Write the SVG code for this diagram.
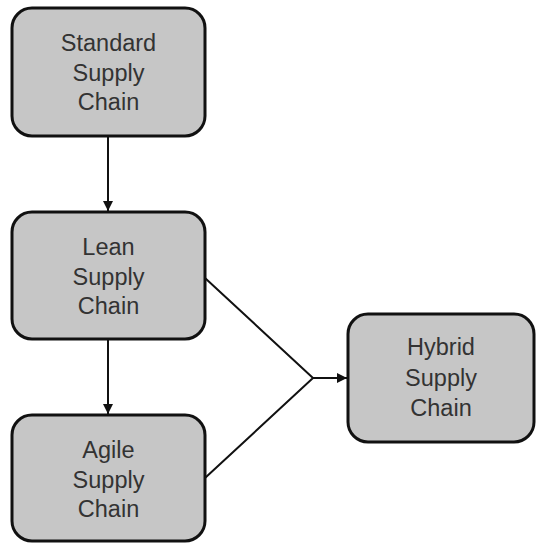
<svg xmlns="http://www.w3.org/2000/svg" width="536" height="544" viewBox="0 0 536 544">
<style>
.box{fill:#c6c6c6;stroke:#111;stroke-width:3}
.t{font-family:"Liberation Sans",Arial,sans-serif;font-size:23.5px;fill:#333;text-anchor:middle}
.c{fill:none;stroke:#111;stroke-width:2}
</style>
<defs>
<marker id="ah" viewBox="0 0 10 10" refX="10" refY="5" markerWidth="10" markerHeight="10" markerUnits="userSpaceOnUse" orient="auto">
<path d="M0,0 L10,5 L0,10 Z" fill="#111"/>
</marker>
</defs>
<rect width="536" height="544" fill="#fff"/>
<g id="connectors">
<line class="c" x1="108" y1="137" x2="108" y2="211" marker-end="url(#ah)"/>
<line class="c" x1="108" y1="340" x2="108" y2="414" marker-end="url(#ah)"/>
<polyline class="c" points="205,278 313,378 205,478"/>
<line class="c" x1="313" y1="378" x2="347" y2="378" marker-end="url(#ah)"/>
</g>
<g id="standard">
<rect class="box" x="12" y="8" width="193" height="128" rx="20"/>
<text class="t" x="108.5" y="51">Standard</text>
<text class="t" x="108.5" y="81">Supply</text>
<text class="t" x="108.5" y="110">Chain</text>
</g>
<g id="lean">
<rect class="box" x="12" y="212" width="193" height="127" rx="20"/>
<text class="t" x="108.5" y="255">Lean</text>
<text class="t" x="108.5" y="285">Supply</text>
<text class="t" x="108.5" y="314">Chain</text>
</g>
<g id="agile">
<rect class="box" x="12" y="415" width="193" height="126" rx="20"/>
<text class="t" x="108.5" y="458">Agile</text>
<text class="t" x="108.5" y="488">Supply</text>
<text class="t" x="108.5" y="517">Chain</text>
</g>
<g id="hybrid">
<rect class="box" x="348" y="314" width="186" height="128" rx="20"/>
<text class="t" x="441" y="355">Hybrid</text>
<text class="t" x="441" y="386">Supply</text>
<text class="t" x="441" y="416">Chain</text>
</g>
</svg>
